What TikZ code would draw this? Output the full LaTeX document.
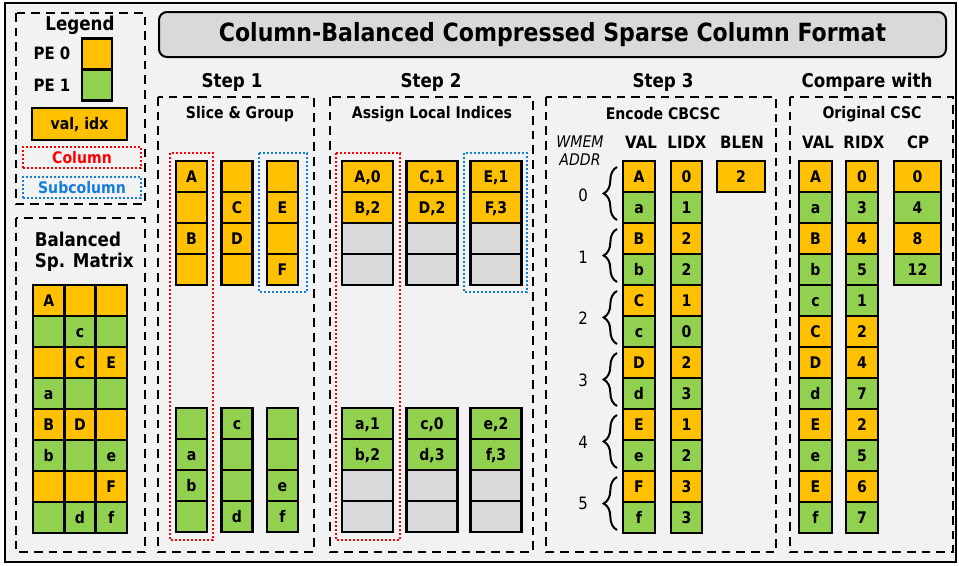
\documentclass[tikz,border=0pt]{standalone}
\usepackage{fontspec}
\setmainfont{DejaVu Sans}[FakeStretch=0.88]
\usetikzlibrary{decorations.pathreplacing}

\definecolor{peorange}{RGB}{255,192,0}
\definecolor{pegreen}{RGB}{146,208,80}
\definecolor{padgray}{RGB}{217,217,217}
\definecolor{bggray}{RGB}{242,242,242}
\definecolor{colred}{RGB}{255,0,0}
\definecolor{subblue}{RGB}{20,125,220}

\tikzset{every picture/.style={line width=0.75pt}}
\tikzset{
  cell/.style={draw=black, line width=2pt, inner sep=0pt, minimum width=23.25pt, minimum height=23.25pt, text height=8.75pt, text depth=0pt, font=\fontsize{12}{12}\selectfont\bfseries},
  pezero/.style={cell, fill=peorange},
  peone/.style={cell, fill=pegreen},
  padcell/.style={cell, fill=padgray},
  mat/.style={minimum width=23.5pt},
  wide/.style={minimum width=38.25pt},
  stepbox/.style={draw=black, line width=2pt, dash pattern=on 6.5pt off 4.5pt},
  colbox/.style={draw=colred, line width=1.8pt, dash pattern=on 1.6pt off 1.4pt},
  subbox/.style={draw=subblue, line width=1.8pt, dash pattern=on 1.6pt off 1.4pt},
  heading/.style={inner sep=1pt, font=\fontsize{14.25}{14.25}\selectfont\bfseries},
  subheading/.style={inner sep=1pt, font=\fontsize{12}{12}\selectfont\bfseries},
  colhead/.style={inner sep=1pt, font=\fontsize{12.75}{12.75}\selectfont\bfseries},
  addr/.style={inner sep=1pt, font=\fontsize{12.75}{12.75}\selectfont},
  addrbrace/.style={decorate, decoration={brace, amplitude=10pt}, line width=1.5pt},
}

\begin{document}
\begin{tikzpicture}[x=0.75pt,y=0.75pt,yscale=-1,xscale=1]
\useasboundingbox (0,0) rectangle (959,565);

%Shape: Rectangle [background]
\draw [fill=bggray, line width=1.2pt] (5,3) rectangle (956,562);

% Title
\node [draw=black, fill=padgray, line width=1.5pt, rounded corners=6pt, minimum width=590.25pt, minimum height=33.75pt, font=\fontsize{18.8}{18.8}\selectfont\bfseries] (title) at (552.5,34.5) {Column-Balanced Compressed Sparse Column Format};

%Legend
\draw [stepbox] (16,13) rectangle (145,204);
\node [heading] (legend) at (80,25) {Legend};
\node [colhead] (pe0) at (52,53) {PE 0};
\node [colhead] (pe1) at (52,85) {PE 1};
\node [pezero, minimum width=22.5pt] (key0) at (97,54) {};
\node [peone, minimum width=22.5pt] (key1) at (97,85) {};
\node [pezero, minimum width=71.25pt, minimum height=24pt] (keyval) at (79.5,124) {val, idx};
\node [colbox, minimum width=88.5pt, minimum height=15.75pt, inner sep=0pt, text=colred, font=\fontsize{12}{12}\selectfont\bfseries] (keycol) at (82,157.5) {Column};
\node [subbox, minimum width=88.5pt, minimum height=15.75pt, inner sep=0pt, text=subblue, font=\fontsize{12}{12}\selectfont\bfseries] (keysub) at (82,187.5) {Subcolumn};

%Balanced sparse matrix
\draw [stepbox] (16,218) rectangle (145,552);
\node [heading, anchor=west] (bal) at (33,239) {Balanced};
\node [heading, anchor=west] (spm) at (33,262) {Sp. Matrix};
\node [pezero, mat] (m11) at (48.7,300.5) {A};
\node [pezero, mat] (m12) at (80,300.5) {};
\node [pezero, mat] (m13) at (111.3,300.5) {};
\node [peone, mat] (m21) at (48.7,331.5) {};
\node [peone, mat] (m22) at (80,331.5) {c};
\node [peone, mat] (m23) at (111.3,331.5) {};
\node [pezero, mat] (m31) at (48.7,362.5) {};
\node [pezero, mat] (m32) at (80,362.5) {C};
\node [pezero, mat] (m33) at (111.3,362.5) {E};
\node [peone, mat] (m41) at (48.7,393.5) {a};
\node [peone, mat] (m42) at (80,393.5) {};
\node [peone, mat] (m43) at (111.3,393.5) {};
\node [pezero, mat] (m51) at (48.7,424.5) {B};
\node [pezero, mat] (m52) at (80,424.5) {D};
\node [pezero, mat] (m53) at (111.3,424.5) {};
\node [peone, mat] (m61) at (48.7,455.5) {b};
\node [peone, mat] (m62) at (80,455.5) {};
\node [peone, mat] (m63) at (111.3,455.5) {e};
\node [pezero, mat] (m71) at (48.7,486.5) {};
\node [pezero, mat] (m72) at (80,486.5) {};
\node [pezero, mat] (m73) at (111.3,486.5) {F};
\node [peone, mat] (m81) at (48.7,517.5) {};
\node [peone, mat] (m82) at (80,517.5) {d};
\node [peone, mat] (m83) at (111.3,517.5) {f};

%Step 1
\node [heading] (step1) at (232,82) {Step 1};
\draw [stepbox] (158,97) rectangle (314,552);
\node [subheading] (slice) at (240,114) {Slice \& Group};
\draw [colbox] (170,153) rectangle (213,540);
\draw [subbox] (259,153) rectangle (307,292);
\node [pezero] (sa1) at (191.5,176.5) {A};
\node [pezero] (sa2) at (191.5,207.5) {};
\node [pezero] (sa3) at (191.5,238.5) {B};
\node [pezero] (sa4) at (191.5,269.5) {};
\node [pezero] (sb1) at (237,176.5) {};
\node [pezero] (sb2) at (237,207.5) {C};
\node [pezero] (sb3) at (237,238.5) {D};
\node [pezero] (sb4) at (237,269.5) {};
\node [pezero] (sc1) at (282.5,176.5) {};
\node [pezero] (sc2) at (282.5,207.5) {E};
\node [pezero] (sc3) at (282.5,238.5) {};
\node [pezero] (sc4) at (282.5,269.5) {F};
\node [peone] (sa5) at (191.5,423.5) {};
\node [peone] (sa6) at (191.5,454.5) {a};
\node [peone] (sa7) at (191.5,485.5) {b};
\node [peone] (sa8) at (191.5,516.5) {};
\node [peone] (sb5) at (237,423.5) {c};
\node [peone] (sb6) at (237,454.5) {};
\node [peone] (sb7) at (237,485.5) {};
\node [peone] (sb8) at (237,516.5) {d};
\node [peone] (sc5) at (282.5,423.5) {};
\node [peone] (sc6) at (282.5,454.5) {};
\node [peone] (sc7) at (282.5,485.5) {e};
\node [peone] (sc8) at (282.5,516.5) {f};

%Step 2
\node [heading] (step2) at (431,82) {Step 2};
\draw [stepbox] (330,97) rectangle (533,552);
\node [subheading] (assign) at (432,114) {Assign Local Indices};
\draw [colbox] (336,153) rectangle (400,540);
\draw [subbox] (464,153) rectangle (527,292);
\node [pezero, wide] (la1) at (367.5,176.5) {A,0};
\node [pezero, wide] (la2) at (367.5,207.5) {B,2};
\node [padcell, wide] (la3) at (367.5,238.5) {};
\node [padcell, wide] (la4) at (367.5,269.5) {};
\node [pezero, wide] (lb1) at (432,176.5) {C,1};
\node [pezero, wide] (lb2) at (432,207.5) {D,2};
\node [padcell, wide] (lb3) at (432,238.5) {};
\node [padcell, wide] (lb4) at (432,269.5) {};
\node [pezero, wide] (lc1) at (496,176.5) {E,1};
\node [pezero, wide] (lc2) at (496,207.5) {F,3};
\node [padcell, wide] (lc3) at (496,238.5) {};
\node [padcell, wide] (lc4) at (496,269.5) {};
\node [peone, wide] (la5) at (367.5,423.5) {a,1};
\node [peone, wide] (la6) at (367.5,454.5) {b,2};
\node [padcell, wide] (la7) at (367.5,485.5) {};
\node [padcell, wide] (la8) at (367.5,516.5) {};
\node [peone, wide] (lb5) at (432,423.5) {c,0};
\node [peone, wide] (lb6) at (432,454.5) {d,3};
\node [padcell, wide] (lb7) at (432,485.5) {};
\node [padcell, wide] (lb8) at (432,516.5) {};
\node [peone, wide] (lc5) at (496,423.5) {e,2};
\node [peone, wide] (lc6) at (496,454.5) {f,3};
\node [padcell, wide] (lc7) at (496,485.5) {};
\node [padcell, wide] (lc8) at (496,516.5) {};

%Step 3
\node [heading] (step3) at (663,82) {Step 3};
\draw [stepbox] (546,97) rectangle (776,552);
\node [subheading] (encode) at (663,114) {Encode CBCSC};
\node [addr, font=\fontsize{12}{12}\selectfont\itshape] (wmem) at (580,142) {WMEM};
\node [addr, font=\fontsize{12}{12}\selectfont\itshape] (waddr) at (580,160) {ADDR};
\node [colhead] (valhead) at (641,142) {VAL};
\node [colhead] (lidxhead) at (687,142) {LIDX};
\node [colhead] (blenhead) at (742,142) {BLEN};
\node [pezero, minimum width=24pt] (v1) at (639,176.5) {A};
\node [peone, minimum width=24pt] (v2) at (639,207.5) {a};
\node [pezero, minimum width=24pt] (v3) at (639,238.5) {B};
\node [peone, minimum width=24pt] (v4) at (639,269.5) {b};
\node [pezero, minimum width=24pt] (v5) at (639,300.5) {C};
\node [peone, minimum width=24pt] (v6) at (639,331.5) {c};
\node [pezero, minimum width=24pt] (v7) at (639,362.5) {D};
\node [peone, minimum width=24pt] (v8) at (639,393.5) {d};
\node [pezero, minimum width=24pt] (v9) at (639,424.5) {E};
\node [peone, minimum width=24pt] (v10) at (639,455.5) {e};
\node [pezero, minimum width=24pt] (v11) at (639,486.5) {F};
\node [peone, minimum width=24pt] (v12) at (639,517.5) {f};
\node [pezero] (li1) at (686.5,176.5) {0};
\node [peone] (li2) at (686.5,207.5) {1};
\node [pezero] (li3) at (686.5,238.5) {2};
\node [peone] (li4) at (686.5,269.5) {2};
\node [pezero] (li5) at (686.5,300.5) {1};
\node [peone] (li6) at (686.5,331.5) {0};
\node [pezero] (li7) at (686.5,362.5) {2};
\node [peone] (li8) at (686.5,393.5) {3};
\node [pezero] (li9) at (686.5,424.5) {1};
\node [peone] (li10) at (686.5,455.5) {2};
\node [pezero] (li11) at (686.5,486.5) {3};
\node [peone] (li12) at (686.5,517.5) {3};
\node [pezero, minimum width=36pt] (blen) at (741,176.5) {2};
% address braces
\draw [addrbrace] (617,220) -- (617,167);
\draw [addrbrace] (617,282) -- (617,229);
\draw [addrbrace] (617,344) -- (617,291);
\draw [addrbrace] (617,406) -- (617,353);
\draw [addrbrace] (617,468) -- (617,415);
\draw [addrbrace] (617,530) -- (617,477);
\node [addr] (a0) at (583,195) {0};
\node [addr] (a1) at (583,257) {1};
\node [addr] (a2) at (583,318) {2};
\node [addr] (a3) at (583,380) {3};
\node [addr] (a4) at (583,442) {4};
\node [addr] (a5) at (583,503) {5};

%Compare with
\node [heading] (compare) at (867,82) {Compare with};
\draw [stepbox] (790,97) rectangle (953,552);
\node [subheading] (orig) at (872,114) {Original CSC};
\node [colhead] (cvalhead) at (818,142) {VAL};
\node [colhead] (ridxhead) at (864,142) {RIDX};
\node [colhead] (cphead) at (918,142) {CP};
\node [pezero, minimum width=24.75pt] (cv1) at (815.5,176.5) {A};
\node [peone, minimum width=24.75pt] (cv2) at (815.5,207.5) {a};
\node [pezero, minimum width=24.75pt] (cv3) at (815.5,238.5) {B};
\node [peone, minimum width=24.75pt] (cv4) at (815.5,269.5) {b};
\node [peone, minimum width=24.75pt] (cv5) at (815.5,300.5) {c};
\node [pezero, minimum width=24.75pt] (cv6) at (815.5,331.5) {C};
\node [pezero, minimum width=24.75pt] (cv7) at (815.5,362.5) {D};
\node [peone, minimum width=24.75pt] (cv8) at (815.5,393.5) {d};
\node [pezero, minimum width=24.75pt] (cv9) at (815.5,424.5) {E};
\node [peone, minimum width=24.75pt] (cv10) at (815.5,455.5) {e};
\node [pezero, minimum width=24.75pt] (cv11) at (815.5,486.5) {E};
\node [peone, minimum width=24.75pt] (cv12) at (815.5,517.5) {f};
\node [pezero, minimum width=24pt] (ri1) at (862,176.5) {0};
\node [peone, minimum width=24pt] (ri2) at (862,207.5) {3};
\node [pezero, minimum width=24pt] (ri3) at (862,238.5) {4};
\node [peone, minimum width=24pt] (ri4) at (862,269.5) {5};
\node [peone, minimum width=24pt] (ri5) at (862,300.5) {1};
\node [pezero, minimum width=24pt] (ri6) at (862,331.5) {2};
\node [pezero, minimum width=24pt] (ri7) at (862,362.5) {4};
\node [peone, minimum width=24pt] (ri8) at (862,393.5) {7};
\node [pezero, minimum width=24pt] (ri9) at (862,424.5) {2};
\node [peone, minimum width=24pt] (ri10) at (862,455.5) {5};
\node [pezero, minimum width=24pt] (ri11) at (862,486.5) {6};
\node [peone, minimum width=24pt] (ri12) at (862,517.5) {7};
\node [pezero, minimum width=35.25pt] (cp1) at (917.5,176.5) {0};
\node [peone, minimum width=35.25pt] (cp2) at (917.5,207.5) {4};
\node [pezero, minimum width=35.25pt] (cp3) at (917.5,238.5) {8};
\node [peone, minimum width=35.25pt] (cp4) at (917.5,269.5) {12};

\end{tikzpicture}
\end{document}
